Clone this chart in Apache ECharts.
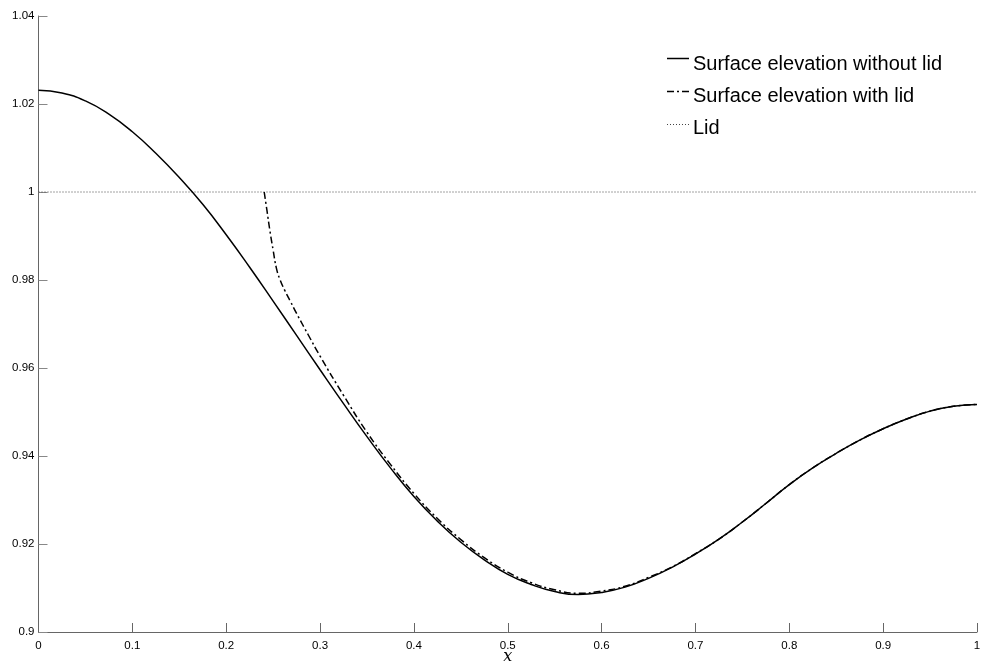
<!DOCTYPE html>
<html>
<head>
<meta charset="utf-8">
<script src="https://cdn.jsdelivr.net/npm/echarts@6/dist/echarts.min.js"></script>
<style>html,body{margin:0;padding:0;background:#fff;}#c{width:991px;height:665px;}</style>
</head>
<body>
<div id="c"></div>
<script>
// Surface elevation without lid: x, y
const xNoLid = [0,0.025,0.05,0.075,0.1,0.125,0.15,0.175,0.2,0.225,0.25,0.275,0.3,0.325,0.35,0.375,0.4,0.425,0.45,0.475,0.5,0.525,0.55,0.575,0.6,0.625,0.65,0.675,0.7,0.725,0.75,0.775,0.8,0.825,0.85,0.875,0.9,0.925,0.95,0.975,1.0];
const yNoLid = [1.0231,1.0225,1.0207,1.0177,1.0137,1.0088,1.0033,0.9972,0.9903,0.9829,0.9752,0.9674,0.9596,0.9519,0.9444,0.9373,0.9308,0.9252,0.9204,0.9164,0.9131,0.9108,0.9092,0.9085,0.9090,0.9102,0.9122,0.9147,0.9177,0.9211,0.9250,0.9292,0.9335,0.9373,0.9406,0.9436,0.9462,0.9484,0.9502,0.9513,0.9517];
// Surface elevation with lid
const xLid = [0.2405,0.2435,0.2465,0.25,0.2536,0.2575,0.2625,0.2685,0.275,0.2875,0.3,0.325,0.35,0.375,0.4,0.425,0.45,0.475,0.5,0.525,0.55,0.575,0.6,0.625,0.65,0.675,0.7,0.725,0.75,0.775,0.8,0.825,0.85,0.875,0.9,0.925,0.95,0.975,1.0];
const yLid = [1.0000,0.9957,0.9913,0.9868,0.9826,0.9800,0.9776,0.9751,0.9724,0.9675,0.9627,0.9538,0.9454,0.9381,0.9315,0.9258,0.9210,0.9169,0.9136,0.9112,0.9096,0.9088,0.9093,0.9104,0.9124,0.9148,0.9178,0.9211,0.9250,0.9292,0.9335,0.9373,0.9406,0.9436,0.9462,0.9484,0.9502,0.9513,0.9517];
// Lid level
const xLidLine = [0, 1];
const yLidLine = [1, 1];
const seriesNames = ['Surface elevation without lid', 'Surface elevation with lid', 'Lid'];

const zip = (xs, ys) => xs.map((x, i) => [x, ys[i]]);
const chart = echarts.init(document.getElementById('c'), null, {renderer: 'canvas'});
const fontSans = '"Liberation Sans", Arial, Helvetica, sans-serif';
const styles = [
  {color: '#000', width: 1.5, type: 'solid'},
  {color: '#000', width: 1.5, type: [7, 3, 2, 3]},
  {color: '#444', width: 1, type: [1, 2]}
];
const legendRows = [{line: 58.5, mid: 64}, {line: 91.5, mid: 96}, {line: 124.5, mid: 128.5}];
const legendGraphics = [];
seriesNames.forEach((n, i) => {
  legendGraphics.push({type: 'line', shape: {x1: 667, y1: legendRows[i].line, x2: 689, y2: legendRows[i].line},
    style: {stroke: styles[i].color, lineWidth: styles[i].width, lineDash: styles[i].type === 'solid' ? null : styles[i].type}});
  legendGraphics.push({type: 'text', x: 693, y: legendRows[i].mid,
    style: {text: n, font: '20px ' + fontSans, fill: '#000', verticalAlign: 'middle', align: 'left'}});
});
chart.setOption({
  animation: false,
  backgroundColor: '#fff',
  grid: {left: 38.5, right: 14, top: 16, bottom: 33, containLabel: false, outerBoundsMode: 'none'},
  graphic: legendGraphics,
  xAxis: {
    type: 'value', min: 0, max: 1, interval: 0.1,
    name: 'x', nameLocation: 'middle', nameGap: 17, nameMoveOverlap: false,
    nameTextStyle: {fontFamily: '"DejaVu Serif", "Liberation Serif", serif', fontStyle: 'italic', fontSize: 16, color: '#000'},
    axisLine: {lineStyle: {color: '#666', width: 1}},
    axisTick: {inside: true, length: 9, lineStyle: {color: '#666'}},
    axisLabel: {fontSize: 11.5, fontFamily: fontSans, color: '#000', margin: 8},
    splitLine: {show: false}
  },
  yAxis: {
    type: 'value', min: 0.9, max: 1.04, interval: 0.02,
    axisLine: {show: true, lineStyle: {color: '#666', width: 1}},
    axisTick: {show: true, inside: true, length: 9, lineStyle: {color: '#888'}},
    axisLabel: {fontSize: 11.5, fontFamily: fontSans, color: '#000', margin: 4},
    splitLine: {show: false}
  },
  series: [
    {name: seriesNames[0], type: 'line', data: zip(xNoLid, yNoLid), symbol: 'none', smooth: 0.5,
     lineStyle: styles[0], z: 3},
    {name: seriesNames[1], type: 'line', data: zip(xLid, yLid), symbol: 'none', smooth: 0.5,
     lineStyle: styles[1], z: 4},
    {name: seriesNames[2], type: 'line', data: zip(xLidLine, yLidLine), symbol: 'none',
     lineStyle: styles[2], z: 2}
  ]
});
</script>
</body>
</html>
